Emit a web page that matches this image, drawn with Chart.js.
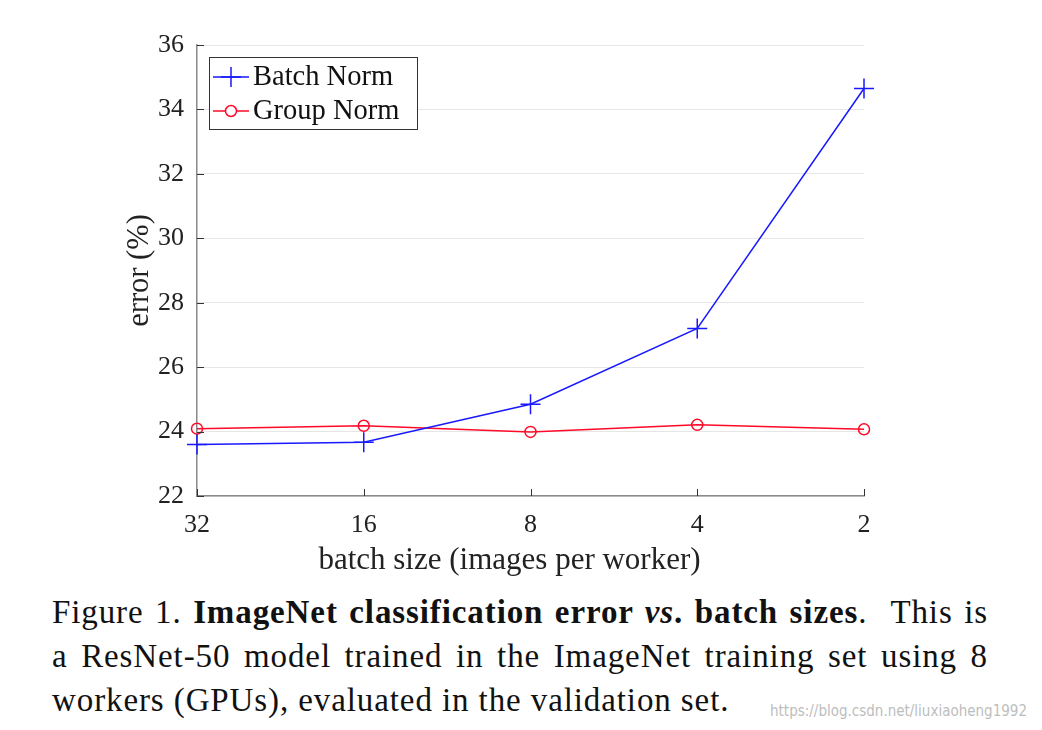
<!DOCTYPE html>
<html>
<head>
<meta charset="utf-8">
<script src="https://cdn.jsdelivr.net/npm/chart.js@4.4.0/dist/chart.umd.min.js"></script>
<style>
  html, body { margin: 0; padding: 0; background: #fff; }
  body { width: 1042px; height: 730px; position: relative; overflow: hidden; }
  #wrap { position: absolute; left: 0; top: 0; width: 1042px; height: 590px; }
  #caption {
    position: absolute; left: 52px; top: 590px; width: 936px;
    font-family: "Liberation Serif", "Times New Roman", serif;
    font-size: 33px; line-height: 44px; color: #111; letter-spacing: 0.9px;
  }
  #caption .j { text-align: justify; text-align-last: justify; white-space: nowrap; }
  #mark {
    position: absolute; left: 770px; top: 702px;
    font-family: "Liberation Sans Narrow", "DejaVu Sans Condensed", sans-serif;
    font-size: 15px; color: #bdbdbd;
  }
</style>
</head>
<body>
<div id="wrap"><canvas id="chart" width="1042" height="590"></canvas></div>
<div id="caption">
  <div class="j">Figure 1. <b>ImageNet classification error <i>vs</i>. batch sizes</b>. &nbsp;This is</div>
  <div class="j">a ResNet-50 model trained in the ImageNet training set using 8</div>
  <div>workers (GPUs), evaluated in the validation set.</div>
</div>
<div id="mark">https://blog.csdn.net/liuxiaoheng1992</div>
<script>
const batchSizes = ["32", "16", "8", "4", "2"]
const batchNorm = [23.6, 23.67, 24.85, 27.2, 34.65]
const groupNorm = [24.09, 24.18, 23.99, 24.21, 24.07]
const yTicks = [22, 24, 26, 28, 30, 32, 34, 36]
const xTitle = "batch size (images per worker)"

const serif = "'Liberation Serif', 'Times New Roman', serif"
const blue = "rgb(25,25,255)"
const red = "rgb(255,10,40)"

// MATLAB style ticks pointing into the plot, plus the x label (sits a bit left of centre)
const innerTicks = {
    id: "innerTicks",
    afterDraw(chart) {
        const ctx = chart.ctx
        const x = chart.scales.x
        const y = chart.scales.y
        ctx.save()
        ctx.strokeStyle = "#333"
        ctx.lineWidth = 1
        ctx.beginPath()
        y.ticks.forEach((t, i) => {
            const py = Math.round(y.getPixelForTick(i)) + 0.5
            ctx.moveTo(y.right, py)
            ctx.lineTo(y.right + 7, py)
        })
        x.ticks.forEach((t, i) => {
            const px = Math.round(x.getPixelForTick(i)) + 0.5
            ctx.moveTo(px, x.top)
            ctx.lineTo(px, x.top - 7)
        })
        ctx.stroke()

        ctx.fillStyle = "#222"
        ctx.font = "31px " + serif
        ctx.textAlign = "center"
        ctx.textBaseline = "alphabetic"
        ctx.fillText(xTitle, (x.left + x.right) / 2 - 21, x.top + 73)
        ctx.restore()
    }
}

// legend box with line + marker sample
const boxLegend = {
    id: "boxLegend",
    afterDraw(chart) {
        const ctx = chart.ctx
        const area = chart.chartArea
        const left = area.left + 12, top = area.top + 12
        const w = 208, h = 72
        ctx.save()
        ctx.fillStyle = "#fff"
        ctx.fillRect(left, top, w, h)
        ctx.strokeStyle = "#333"
        ctx.lineWidth = 1
        ctx.strokeRect(left + 0.5, top + 0.5, w, h)
        ctx.font = "28.5px " + serif
        ctx.textBaseline = "middle"
        chart.data.datasets.forEach((ds, i) => {
            const cy = top + 20 + i * 34
            ctx.strokeStyle = ds.borderColor
            ctx.lineWidth = 1.5
            ctx.beginPath()
            ctx.moveTo(left + 4, cy)
            ctx.lineTo(left + 40, cy)
            ctx.stroke()
            ctx.fillStyle = "#fff"
            Chart.helpers.drawPoint(ctx, {
                pointStyle: ds.pointStyle,
                radius: ds.pointRadius,
                borderWidth: ds.pointBorderWidth
            }, left + 22, cy)
            ctx.fillStyle = "#111"
            ctx.fillText(ds.label, left + 44, cy + 1)
        })
        ctx.restore()
    }
}

new Chart(document.getElementById("chart"), {
    type: "line",
    data: {
        labels: batchSizes,
        datasets: [{
            label: "Batch Norm",
            data: batchNorm,
            borderColor: blue,
            backgroundColor: "transparent",
            borderWidth: 1.5,
            pointStyle: "cross",
            pointRadius: 10,
            pointBorderWidth: 1.5,
            pointBorderColor: blue,
            tension: 0,
            clip: false
        }, {
            label: "Group Norm",
            data: groupNorm,
            borderColor: red,
            backgroundColor: "transparent",
            borderWidth: 1.5,
            pointStyle: "circle",
            pointRadius: 5.5,
            pointBorderWidth: 1.5,
            pointBorderColor: red,
            pointBackgroundColor: "transparent",
            tension: 0,
            clip: false
        }]
    },
    options: {
        responsive: false,
        animation: false,
        layout: { padding: { left: 0, right: 178, top: 45, bottom: 0 } },
        plugins: { legend: { display: false }, tooltip: { enabled: false } },
        scales: {
            x: {
                offset: false,
                grid: { display: false, drawTicks: false },
                border: { display: true, color: "#8a8a8a", width: 1.5 },
                ticks: { color: "#222", padding: 14, font: { family: serif, size: 26 }, maxRotation: 0 },
                title: { display: false },
                afterFit: (s) => { s.height = 94 }
            },
            y: {
                min: 22,
                max: 36,
                afterBuildTicks: (s) => { s.ticks = yTicks.map(v => ({ value: v })) },
                grid: { color: "#e6e6e6", drawTicks: false },
                border: { display: true, color: "#8a8a8a", width: 1.5 },
                ticks: { color: "#222", padding: 13, font: { family: serif, size: 26 } },
                title: { display: true, text: "error (%)", color: "#222",
                         font: { family: serif, size: 30.5 }, padding: { top: 122 } },
                afterFit: (s) => { s.width = 197 }
            }
        }
    },
    plugins: [innerTicks, boxLegend]
});
</script>
</body>
</html>
